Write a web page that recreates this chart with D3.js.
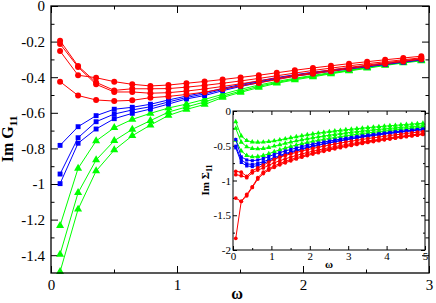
<!DOCTYPE html>
<html>
<head>
<meta charset="utf-8">
<script src="https://d3js.org/d3.v7.min.js"></script>
<style>
  body { margin: 0; background: #fff; }
  text { font-family: "Liberation Serif", "Times New Roman", serif; }
</style>
</head>
<body>
<svg width="436" height="303"></svg>
<script>
  // Matsubara frequencies
  var omega = [0.072, 0.215, 0.358, 0.502, 0.645, 0.789, 0.932, 1.075, 1.219, 1.362,
    1.505, 1.649, 1.792, 1.935, 2.079, 2.222, 2.365, 2.509, 2.652, 2.796,
    2.939, 3.082, 3.226, 3.369, 3.512, 3.656, 3.799, 3.942, 4.086, 4.229,
    4.372, 4.516, 4.659, 4.802, 4.946];

  // main panel: Im G11, first 21 frequencies
  var gRed = [
    [-0.195,-0.337,-0.429,-0.474,-0.465,-0.465,-0.464,-0.456,-0.446,-0.434,-0.421,-0.407,-0.392,-0.377,-0.362,-0.349,-0.336,-0.324,-0.313,-0.302,-0.291],
    [-0.213,-0.343,-0.440,-0.483,-0.483,-0.490,-0.487,-0.478,-0.466,-0.452,-0.437,-0.421,-0.405,-0.389,-0.374,-0.359,-0.345,-0.332,-0.319,-0.307,-0.295],
    [-0.253,-0.389,-0.403,-0.425,-0.440,-0.449,-0.444,-0.434,-0.424,-0.413,-0.401,-0.389,-0.375,-0.361,-0.348,-0.336,-0.324,-0.313,-0.302,-0.292,-0.282],
    [-0.425,-0.503,-0.528,-0.534,-0.530,-0.515,-0.508,-0.497,-0.484,-0.466,-0.449,-0.432,-0.414,-0.395,-0.381,-0.366,-0.352,-0.338,-0.325,-0.312,-0.299]
  ];
  var gBlue = [
    [-0.783,-0.678,-0.616,-0.580,-0.569,-0.552,-0.528,-0.506,-0.486,-0.463,-0.441,-0.421,-0.402,-0.386,-0.372,-0.360,-0.348,-0.336,-0.323,-0.311,-0.299],
    [-0.944,-0.740,-0.650,-0.607,-0.584,-0.566,-0.539,-0.514,-0.494,-0.469,-0.447,-0.426,-0.406,-0.390,-0.376,-0.363,-0.351,-0.339,-0.326,-0.313,-0.301],
    [-0.998,-0.771,-0.691,-0.633,-0.603,-0.579,-0.551,-0.522,-0.503,-0.476,-0.452,-0.431,-0.410,-0.394,-0.380,-0.367,-0.354,-0.342,-0.329,-0.316,-0.303]
  ];
  var gGreen = [
    [-1.234,-0.912,-0.758,-0.684,-0.637,-0.603,-0.573,-0.551,-0.525,-0.496,-0.468,-0.444,-0.424,-0.406,-0.390,-0.374,-0.360,-0.344,-0.329,-0.315,-0.303],
    [-1.395,-1.049,-0.865,-0.757,-0.693,-0.644,-0.596,-0.567,-0.539,-0.506,-0.478,-0.451,-0.430,-0.410,-0.394,-0.378,-0.362,-0.347,-0.331,-0.317,-0.306],
    [-1.493,-1.142,-0.927,-0.809,-0.729,-0.669,-0.615,-0.581,-0.553,-0.514,-0.485,-0.458,-0.434,-0.415,-0.398,-0.381,-0.365,-0.350,-0.334,-0.320,-0.308]
  ];

  // inset: Im Sigma11, all 35 frequencies
  var sRed = [
    [-0.867,-0.880,-0.940,-0.860,-0.820,-0.780,-0.735,-0.695,-0.665,-0.640,-0.617,-0.596,-0.576,-0.557,-0.539,-0.522,-0.506,-0.490,-0.475,-0.461,-0.447,-0.434,-0.421,-0.409,-0.397,-0.386,-0.375,-0.364,-0.353,-0.343,-0.333,-0.323,-0.314,-0.305,-0.296],
    [-0.916,-0.930,-0.960,-0.890,-0.850,-0.820,-0.780,-0.745,-0.715,-0.688,-0.663,-0.640,-0.618,-0.598,-0.579,-0.561,-0.544,-0.528,-0.512,-0.497,-0.483,-0.469,-0.456,-0.443,-0.431,-0.419,-0.407,-0.396,-0.385,-0.374,-0.364,-0.354,-0.344,-0.334,-0.325],
    [-1.253,-1.300,-1.200,-1.090,-0.960,-0.880,-0.830,-0.790,-0.755,-0.725,-0.698,-0.672,-0.648,-0.626,-0.605,-0.585,-0.566,-0.548,-0.531,-0.515,-0.500,-0.485,-0.471,-0.457,-0.444,-0.431,-0.419,-0.407,-0.395,-0.384,-0.373,-0.362,-0.352,-0.342,-0.332],
    [-1.831,-1.300,-1.220,-1.100,-0.980,-0.900,-0.850,-0.810,-0.775,-0.745,-0.717,-0.690,-0.665,-0.642,-0.620,-0.600,-0.580,-0.562,-0.544,-0.527,-0.511,-0.496,-0.481,-0.467,-0.453,-0.440,-0.427,-0.415,-0.403,-0.391,-0.380,-0.369,-0.358,-0.348,-0.338]
  ];
  var sBlue = [
    [-0.410,-0.660,-0.705,-0.715,-0.705,-0.685,-0.655,-0.625,-0.600,-0.575,-0.553,-0.532,-0.512,-0.494,-0.477,-0.461,-0.446,-0.432,-0.418,-0.405,-0.393,-0.381,-0.369,-0.358,-0.347,-0.337,-0.327,-0.317,-0.308,-0.299,-0.290,-0.282,-0.274,-0.266,-0.258],
    [-0.506,-0.700,-0.760,-0.770,-0.755,-0.730,-0.700,-0.670,-0.640,-0.613,-0.588,-0.565,-0.543,-0.522,-0.503,-0.486,-0.469,-0.453,-0.438,-0.424,-0.410,-0.397,-0.384,-0.372,-0.360,-0.349,-0.338,-0.328,-0.318,-0.309,-0.300,-0.291,-0.283,-0.275,-0.267],
    [-0.530,-0.740,-0.790,-0.800,-0.785,-0.755,-0.720,-0.688,-0.657,-0.628,-0.601,-0.577,-0.554,-0.532,-0.512,-0.494,-0.476,-0.460,-0.444,-0.429,-0.415,-0.401,-0.388,-0.376,-0.364,-0.353,-0.342,-0.331,-0.321,-0.312,-0.303,-0.294,-0.286,-0.278,-0.270]
  ];
  var sGreen = [
    [-0.154,-0.360,-0.425,-0.445,-0.450,-0.447,-0.440,-0.430,-0.415,-0.400,-0.385,-0.370,-0.355,-0.342,-0.330,-0.318,-0.307,-0.297,-0.287,-0.278,-0.270,-0.262,-0.254,-0.246,-0.239,-0.232,-0.225,-0.218,-0.212,-0.206,-0.200,-0.194,-0.188,-0.182,-0.176],
    [-0.250,-0.450,-0.515,-0.540,-0.545,-0.540,-0.525,-0.505,-0.485,-0.465,-0.447,-0.430,-0.414,-0.399,-0.385,-0.372,-0.360,-0.348,-0.337,-0.326,-0.316,-0.306,-0.297,-0.288,-0.280,-0.272,-0.264,-0.257,-0.250,-0.243,-0.236,-0.230,-0.224,-0.218,-0.212],
    [-0.420,-0.575,-0.640,-0.660,-0.655,-0.640,-0.615,-0.585,-0.558,-0.532,-0.510,-0.490,-0.471,-0.453,-0.437,-0.422,-0.408,-0.394,-0.381,-0.369,-0.357,-0.346,-0.335,-0.325,-0.315,-0.306,-0.297,-0.288,-0.280,-0.272,-0.264,-0.257,-0.250,-0.243,-0.236]
  ];

  // tick values
  var mainXTicks = [0, 1, 2, 3];
  var mainXMinor = [0.5, 1.5, 2.5];
  var mainYTicks = [-1.4, -1.2, -1, -0.8, -0.6, -0.4, -0.2, 0];
  var mainYMinor = [-1.3, -1.1, -0.9, -0.7, -0.5, -0.3, -0.1];
  var insetXTicks = [0, 1, 2, 3, 4, 5];
  var insetXMinor = [0.5, 1.5, 2.5, 3.5, 4.5];
  var insetYTicks = [-2, -1.5, -1, -0.5, 0];
  var insetYMinor = [-1.75, -1.25, -0.75, -0.25];

  var svg = d3.select("svg");
  var fmt = function (d) { return String(+d.toFixed(2)); };

  function drawAxes(x, y, o) {
    var g = svg.append("g");
    var x0 = x.range()[0], x1 = x.range()[1], y0 = y.range()[0], y1 = y.range()[1];
    g.append("rect")
      .attr("x", x0).attr("y", y1)
      .attr("width", x1 - x0).attr("height", y0 - y1)
      .attr("fill", o.fill).attr("stroke", "none");
    function ax(axis, t, vals, size, labels) {
      var a = axis.tickValues(vals).tickSize(-size).tickSizeOuter(0).tickPadding(o.pad);
      a.tickFormat(labels ? fmt : "");
      var s = g.append("g").attr("transform", t).call(a);
      s.select(".domain").remove();
      s.selectAll("line").attr("stroke", "#000").attr("stroke-width", 1);
      s.selectAll("text").attr("font-size", o.font).attr("fill", "#000")
        .style("font-family", "'Liberation Serif', serif");
      return s;
    }
    [[o.xt, o.major, true], [o.xm, o.minor, false]].forEach(function (c) {
      ax(d3.axisBottom(x), "translate(0," + y0 + ")", c[0], c[1], c[2]);
      ax(d3.axisTop(x), "translate(0," + y1 + ")", c[0], c[1], false);
    });
    [[o.yt, o.major, true], [o.ym, o.minor, false]].forEach(function (c) {
      ax(d3.axisLeft(y), "translate(" + x0 + ",0)", c[0], c[1], c[2]);
      ax(d3.axisRight(y), "translate(" + x1 + ",0)", c[0], c[1], false);
    });
    return g;
  }

  function drawSeries(x, y, sets, color, shape, size, n) {
    sets.forEach(function (vals) {
      var pts = vals.map(function (v, i) { return [omega[i], v]; }).slice(0, n);
      var line = d3.line()
        .x(function (d) { return x(d[0]); })
        .y(function (d) { return y(d[1]); });
      svg.append("path").attr("d", line(pts))
        .attr("fill", "none").attr("stroke", color).attr("stroke-width", 1);
      svg.append("g").selectAll("path").data(pts).enter().append("path")
        .attr("transform", function (d) { return "translate(" + x(d[0]) + "," + y(d[1]) + ")"; })
        .attr("d", d3.symbol().type(shape).size(size))
        .attr("fill", color);
    });
  }

  // ---- main panel
  var x = d3.scaleLinear().domain([0, 3]).range([51, 429]);
  var y = d3.scaleLinear().domain([-1.5, 0]).range([273, 6]);

  drawAxes(x, y, { xt: mainXTicks, xm: mainXMinor, yt: mainYTicks, ym: mainYMinor,
    major: 7, minor: 3.5, pad: 6, font: 15, fill: "#fff" });

  drawSeries(x, y, gGreen, "#00ff00", d3.symbolTriangle, 28, 21);
  drawSeries(x, y, gBlue, "#0000ff", d3.symbolSquare, 24, 21);
  drawSeries(x, y, gRed, "#ff0000", d3.symbolCircle, 28, 21);

  svg.append("rect").attr("x", 51).attr("y", 6).attr("width", 378).attr("height", 267)
    .attr("fill", "none").attr("stroke", "#000").attr("stroke-width", 1.3);

  svg.append("text").attr("x", 237).attr("y", 299).attr("text-anchor", "middle")
    .attr("font-size", 16).attr("font-weight", "bold").text("ω");

  var yt = svg.append("text").attr("transform", "translate(13,139) rotate(-90)")
    .attr("text-anchor", "middle").attr("font-size", 16).attr("font-weight", "bold");
  yt.append("tspan").text("Im G");
  yt.append("tspan").attr("font-size", 11).attr("dy", 4).text("11");

  // ---- inset
  var xi = d3.scaleLinear().domain([0, 5]).range([233, 425]);
  var yi = d3.scaleLinear().domain([-2, 0]).range([250, 111]);

  drawAxes(xi, yi, { xt: insetXTicks, xm: insetXMinor, yt: insetYTicks, ym: insetYMinor,
    major: 4, minor: 2, pad: 2, font: 11, fill: "#fff" });

  drawSeries(xi, yi, sGreen, "#00ff00", d3.symbolTriangle, 11, 35);
  drawSeries(xi, yi, sBlue, "#0000ff", d3.symbolSquare, 10, 35);
  drawSeries(xi, yi, sRed, "#ff0000", d3.symbolCircle, 11, 35);

  svg.append("rect").attr("x", 233).attr("y", 111).attr("width", 192).attr("height", 139)
    .attr("fill", "none").attr("stroke", "#000").attr("stroke-width", 1);

  svg.append("text").attr("x", 329).attr("y", 268).attr("text-anchor", "middle")
    .attr("font-size", 11).attr("font-weight", "bold").text("ω");

  var it = svg.append("text").attr("transform", "translate(209,180) rotate(-90)")
    .attr("text-anchor", "middle").attr("font-size", 11).attr("font-weight", "bold");
  it.append("tspan").text("Im Σ");
  it.append("tspan").attr("font-size", 8).attr("dy", 3).text("11");
</script>
</body>
</html>
